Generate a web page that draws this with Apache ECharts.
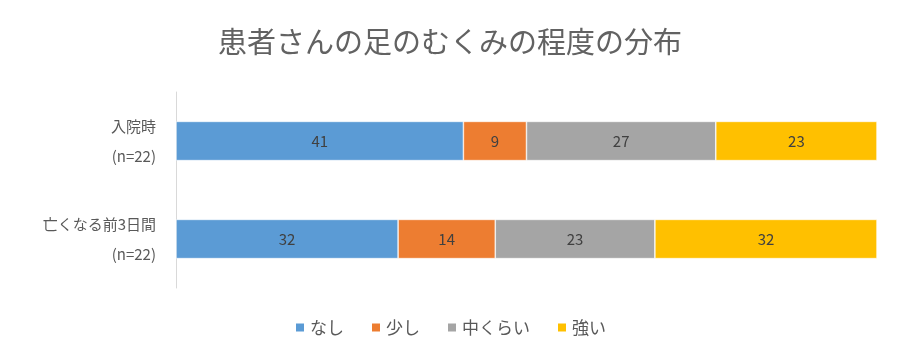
<!DOCTYPE html>
<html><head><meta charset="utf-8">
<script src="https://cdn.jsdelivr.net/npm/echarts@6/dist/echarts.min.js"></script>
<style>html,body{margin:0;padding:0;background:#fff}#c{width:900px;height:360px}</style>
</head><body><div id="c"></div>
<script>
const categories = ['入院時\n(n=22)', '亡くなる前3日間\n(n=22)'];
const seriesNames = ['なし', '少し', '中くらい', '強い'];
const nashi = [41, 32];
const sukoshi = [9, 14];
const naka = [27, 23];
const tsuyoi = [23, 32];
const colors = ['#5B9BD5', '#ED7D31', '#A5A5A5', '#FFC000'];

const raw = [nashi, sukoshi, naka, tsuyoi];
const totals = categories.map((_, i) => raw.reduce((s, a) => s + a[i], 0));
const font = '"Noto Sans CJK JP", "Noto Sans", sans-serif';

const chart = echarts.init(document.getElementById('c'));
chart.setOption({
  animation: false,
  color: colors,
  title: {
    text: '患者さんの足のむくみの程度の分布',
    left: 'center', top: 22,
    textStyle: { fontFamily: font, fontSize: 29, fontWeight: 'normal', color: '#626262' }
  },
  legend: {
    bottom: 19, left: 'center',
    itemWidth: 10, itemHeight: 10, itemGap: 26, icon: 'rect',
    textStyle: { fontFamily: font, fontSize: 17, color: '#595959' },
    data: seriesNames
  },
  grid: { left: 176, right: 23, top: 92, bottom: 72 },
  xAxis: { type: 'value', min: 0, max: 100, show: false },
  yAxis: {
    type: 'category', data: categories, inverse: true,
    axisLine: { show: true, lineStyle: { color: '#D9D9D9', width: 1 } },
    axisTick: { show: false },
    axisLabel: { fontFamily: font, fontSize: 15, color: '#595959', lineHeight: 30, margin: 20, align: 'right' }
  },
  series: raw.map((arr, k) => ({
    name: seriesNames[k], type: 'bar', stack: 'all', barWidth: '40%',
    itemStyle: { borderColor: '#fff', borderWidth: 0.6 },
    label: {
      show: true, position: 'inside', fontFamily: font, fontSize: 15, color: '#404040',
      formatter: p => String(arr[p.dataIndex])
    },
    data: arr.map((v, i) => v / totals[i] * 100)
  }))
});
</script></body></html>
